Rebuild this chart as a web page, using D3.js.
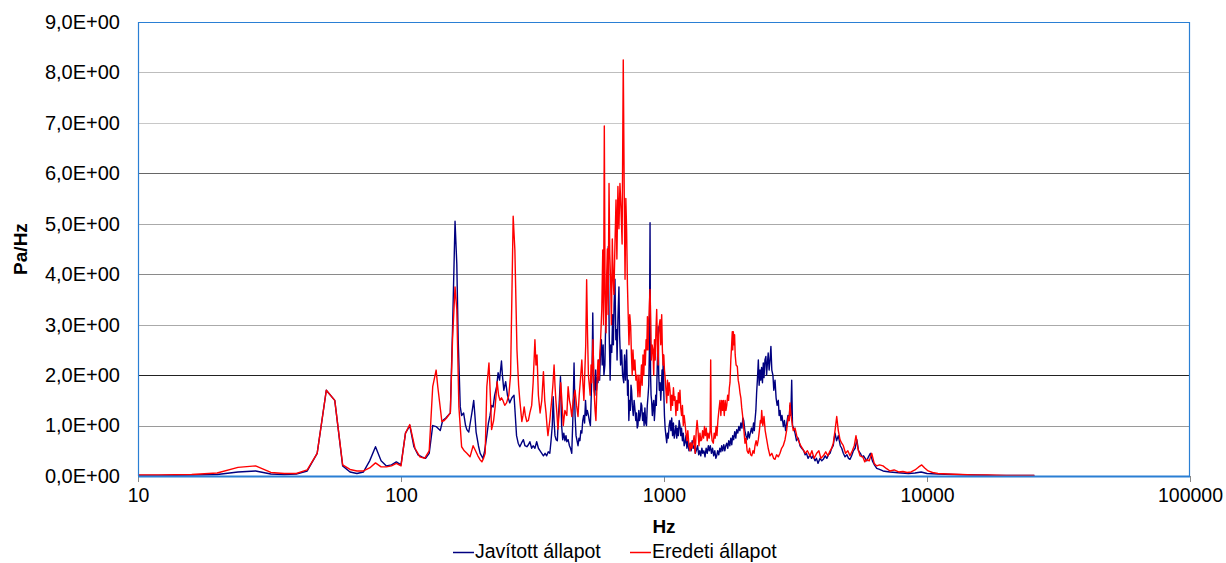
<!DOCTYPE html>
<html><head><meta charset="utf-8">
<script src="https://cdn.jsdelivr.net/npm/d3@7"></script>
<style>
body{margin:0;background:#fff;}
svg{display:block;font-family:"Liberation Sans",Arial,sans-serif;}
</style></head><body>
<svg id="chart" width="1226" height="563"></svg>
<script>
const xTicks = [10, 100, 1000, 10000, 100000];
const yTicks = [0, 1, 2, 3, 4, 5, 6, 7, 8, 9];
const seriesNames = ["Javított állapot", "Eredeti állapot"];
const xTitle = "Hz";
const yTitle = "Pa/Hz";

// [frequency Hz, Pa/Hz]
const javitott = [[10,0.01],[12,0.01],[16,0.02],[20,0.03],[24,0.08],[28,0.1],[32,0.04],[36,0.03],[40,0.04],[44,0.1],[48,0.45],[52,1.7],[56,1.5],[60,0.2],[64,0.08],[68,0.05],[72,0.08],[76,0.3],[80,0.58],[84,0.3],[88,0.2],[92,0.22],[96,0.28],[100,0.22],[104,0.85],[108,1.0],[112,0.58],[116,0.42],[120,0.38],[124,0.35],[128,0.45],[132,1.0],[136,0.98],[141,0.9],[144,1.1],[148,1.15],[151,1.2],[154,1.25],[157,2.9],[160.5,5.05],[163,4.2],[165,2.7],[168,1.37],[170,1.2],[173,1.25],[176,1.0],[178,0.92],[181,0.87],[184,1.1],[186,1.25],[189,1.5],[191,1.2],[193,0.87],[197,0.6],[200,0.45],[205,0.35],[208,0.5],[212,0.8],[215,1.05],[218,1.2],[221,1.4],[224,1.37],[227,1.6],[231,1.77],[234,2.05],[237,1.9],[241,2.28],[243,2.0],[246,1.7],[250,1.87],[254,1.6],[259,1.45],[264,1.55],[269,1.6],[272,1.2],[275,0.8],[279,0.65],[283,0.58],[287,0.65],[292,0.72],[296,0.6],[301,0.58],[305,0.62],[309,0.68],[314,0.55],[318,0.6],[323,0.55],[328,0.68],[333,0.55],[338,0.5],[343,0.45],[348,0.4],[353,0.45],[358,0.4],[363,0.48],[368,0.45],[372,0.7],[376,1.0],[379,1.57],[382,1.1],[385,0.8],[389,0.72],[393,0.7],[397,1.2],[400,1.5],[404,1.97],[408,1.0],[412,0.72],[416,0.85],[420,0.7],[424,0.8],[427,0.68],[432,0.72],[437,0.6],[441,0.55],[446,0.45],[450,1.1],[455,2.24],[459,1.2],[463,0.8],[467,0.7],[471,0.6],[475,0.75],[479,0.7],[483,0.9],[487,0.85],[491,1.1],[495,1.2],[499,1.05],[503,1.5],[507,1.2],[511,1.3],[516,1.2],[520,1.1],[525,1.0],[529,1.6],[533,2.2],[536,3.23],[540,2.0],[543,1.7],[546,1.6],[550,2.1],[554,1.7],[558,1.95],[561,1.85],[565,2.3],[569,1.9],[574,2.5],[578,2.7],[582,2.2],[587,2.6],[591,2.0],[596,2.2],[600,3.0],[604,3.4],[609,3.9],[614,4.55],[619,2.8],[624,1.9],[628,2.6],[633,2.45],[638,3.2],[642,2.6],[646,3.4],[651,3.9],[656,2.7],[660,2.9],[663,2.3],[668,3.1],[674,3.75],[678,2.8],[684,2.2],[690,2.5],[696,2.0],[703,1.85],[708,2.4],[714,1.9],[721,2.5],[727,1.6],[731,1.9],[735,1.1],[740,1.5],[745,1.3],[749,1.8],[753,1.7],[758,1.4],[764,1.2],[770,1.5],[776,1.3],[781,1.1],[786,1.25],[791,0.95],[796,1.0],[802,1.3],[807,1.1],[813,1.2],[818,1.45],[823,1.4],[829,1.1],[835,1.25],[840,1.0],[846,1.35],[852,1.05],[858,1.0],[864,1.4],[870,1.6],[875,1.8],[880,2.5],[885,5.02],[889,2.0],[893,1.6],[897,1.5],[903,1.2],[908,1.4],[914,1.5],[919,1.1],[924,1.3],[930,1.6],[935,1.4],[940,1.9],[945,2.4],[950,2.96],[955,2.0],[960,1.7],[966,1.85],[972,1.5],[978,1.8],[983,2.1],[988,1.7],[994,2.4],[999,1.6],[1004,1.2],[1010,0.95],[1017,0.8],[1024,0.66],[1031,0.85],[1038,0.75],[1046,1.0],[1054,1.1],[1062,0.9],[1070,1.15],[1078,0.8],[1086,1.05],[1094,0.75],[1101,0.85],[1110,1.0],[1118,0.75],[1126,0.95],[1134,0.8],[1142,1.1],[1150,1.0],[1158,0.8],[1166,0.95],[1175,0.7],[1184,0.85],[1193,0.6],[1202,0.66],[1212,0.8],[1222,0.55],[1232,0.7],[1244,0.5],[1256,0.65],[1268,0.5],[1280,0.7],[1292,0.55],[1304,0.6],[1316,0.45],[1329,0.52],[1342,0.6],[1355,0.42],[1368,0.5],[1380,0.4],[1393,0.55],[1405,0.45],[1418,0.5],[1432,0.38],[1446,0.55],[1460,0.45],[1474,0.6],[1487,0.5],[1500,0.6],[1515,0.45],[1530,0.55],[1545,0.4],[1560,0.5],[1575,0.35],[1586,0.4],[1600,0.5],[1615,0.42],[1630,0.55],[1645,0.48],[1657,0.6],[1672,0.5],[1688,0.62],[1703,0.5],[1718,0.6],[1732,0.65],[1748,0.55],[1763,0.7],[1780,0.6],[1795,0.75],[1810,0.62],[1825,0.8],[1840,0.72],[1858,0.88],[1875,0.75],[1890,0.92],[1908,0.85],[1925,0.98],[1943,0.9],[1960,1.05],[1978,0.95],[1995,1.15],[2010,1.1],[2030,0.9],[2050,0.8],[2070,0.72],[2090,0.88],[2110,0.75],[2129,0.85],[2150,0.95],[2170,0.85],[2190,1.05],[2205,0.9],[2218,1.1],[2235,1.3],[2250,1.65],[2265,1.9],[2284,2.3],[2300,1.8],[2318,2.1],[2333,1.9],[2350,2.15],[2368,1.85],[2385,2.24],[2400,1.95],[2420,2.3],[2440,2.37],[2455,2.0],[2470,2.2],[2490,2.44],[2510,2.1],[2530,2.3],[2550,2.57],[2570,2.1],[2595,2.0],[2615,1.7],[2643,1.9],[2668,1.55],[2693,1.4],[2720,1.5],[2740,1.2],[2761,1.3],[2785,1.1],[2810,1.2],[2843,0.98],[2870,1.1],[2900,0.9],[2930,1.05],[2960,1.2],[2990,1.1],[3014,1.4],[3035,1.2],[3059,1.9],[3080,1.0],[3110,0.95],[3150,0.85],[3190,0.7],[3240,0.75],[3290,0.6],[3340,0.55],[3400,0.5],[3440,0.42],[3480,0.45],[3530,0.35],[3590,0.42],[3640,0.35],[3690,0.4],[3750,0.3],[3800,0.35],[3850,0.25],[3920,0.35],[3980,0.3],[4034,0.33],[4100,0.4],[4160,0.35],[4220,0.42],[4279,0.45],[4340,0.55],[4400,0.6],[4470,0.85],[4530,0.7],[4600,0.8],[4680,0.6],[4740,0.55],[4806,0.45],[4880,0.38],[4960,0.42],[5030,0.35],[5095,0.33],[5170,0.4],[5250,0.5],[5330,0.55],[5410,0.72],[5490,0.5],[5580,0.45],[5660,0.38],[5740,0.4],[5820,0.35],[5900,0.3],[5990,0.38],[6090,0.45],[6200,0.3],[6310,0.22],[6440,0.15],[6600,0.13],[6804,0.1],[7000,0.09],[7233,0.08],[7600,0.07],[8000,0.06],[8500,0.05],[9000,0.06],[9500,0.08],[10000,0.05],[11000,0.04],[12500,0.03],[15000,0.02],[18000,0.01],[21000,0.01],[25600,0.01]];

const eredeti = [[10,0.02],[12,0.02],[16,0.03],[20,0.06],[24,0.17],[28,0.2],[32,0.07],[36,0.05],[40,0.05],[44,0.12],[48,0.45],[52,1.7],[56,1.5],[60,0.22],[64,0.13],[68,0.1],[72,0.1],[76,0.16],[80,0.26],[84,0.18],[88,0.18],[92,0.2],[96,0.25],[100,0.2],[104,0.85],[108,1.02],[113,0.55],[118,0.38],[123,0.35],[128,0.5],[132,1.77],[136,2.1],[138,1.77],[143,1.08],[146,1.1],[149,1.15],[154,1.25],[157,2.7],[160.5,3.75],[163,3.3],[166,1.37],[170,0.58],[174,0.5],[178,0.45],[183,0.38],[188,0.6],[192,0.5],[196,0.4],[200,0.32],[203,0.28],[206,0.35],[209,0.45],[212,1.77],[216,2.24],[219,1.5],[221,0.92],[225,1.1],[228,1.37],[232,1.87],[235,1.6],[238,1.5],[241,1.55],[244,1.5],[248,1.4],[252,1.45],[257,1.6],[261,2.0],[264,3.56],[267,5.15],[271,4.48],[276,2.5],[280,1.8],[283,1.5],[288,1.08],[291,1.2],[294,1.37],[297,1.2],[301,1.08],[305,1.1],[309,1.25],[314,1.4],[318,1.85],[323,2.7],[326,2.2],[329,2.4],[333,1.6],[338,1.25],[343,1.5],[348,2.07],[352,1.5],[356,1.25],[359,1.0],[362,0.8],[368,1.1],[374,1.5],[378,1.8],[382,2.2],[385,1.8],[388,1.5],[392,1.2],[395,0.93],[400,1.3],[405,1.85],[410,1.4],[414,1.0],[420,1.3],[427,1.2],[432,1.77],[437,1.5],[441,1.4],[446,1.18],[452,1.5],[459,1.7],[465,1.4],[471,1.18],[476,1.6],[481,1.9],[487,2.3],[492,1.8],[496,1.5],[501,2.2],[504,2.6],[508,3.89],[512,2.8],[516,2.0],[519,1.85],[524,1.6],[528,2.2],[531,1.85],[534,2.3],[537,2.7],[542,1.7],[547,1.3],[551,1.1],[556,1.8],[561,2.3],[566,1.9],[570,2.4],[574,2.7],[580,3.3],[585,4.48],[589,3.0],[593,6.94],[597,3.6],[602,2.84],[605,3.9],[609,4.5],[613,3.2],[618,5.8],[622,4.4],[627,3.83],[631,3.0],[636,4.7],[641,3.9],[645,3.6],[651,4.6],[657,5.47],[662,4.3],[668,5.74],[674,4.9],[680,5.8],[686,5.34],[693,4.6],[700,8.25],[706,5.6],[711,3.9],[716,5.5],[721,4.85],[726,3.8],[730,3.3],[736,2.6],[741,3.2],[747,2.96],[752,2.4],[757,2.0],[762,2.5],[768,2.1],[775,2.3],[782,1.9],[789,2.0],[796,1.57],[803,2.0],[810,1.57],[816,1.9],[821,2.2],[826,1.8],[832,2.4],[838,2.0],[843,2.5],[849,2.2],[855,2.7],[860,2.5],[865,3.16],[870,2.5],[875,3.0],[880,3.4],[885,3.7],[890,3.1],[895,2.3],[901,2.6],[908,2.5],[914,2.0],[920,2.7],[926,2.3],[932,2.9],[938,3.3],[944,2.6],[950,2.2],[955,2.8],[960,3.0],[966,3.1],[972,2.6],[980,3.2],[986,2.5],[992,2.2],[998,2.4],[1004,2.1],[1010,1.95],[1017,1.7],[1024,1.45],[1031,1.9],[1038,1.6],[1046,1.85],[1054,1.7],[1062,1.3],[1070,1.6],[1078,1.4],[1086,1.75],[1094,1.5],[1101,1.57],[1110,1.2],[1118,1.5],[1126,1.3],[1134,1.65],[1142,1.45],[1150,1.7],[1158,1.35],[1166,1.2],[1175,1.4],[1184,1.0],[1193,1.2],[1202,1.05],[1212,0.85],[1222,0.7],[1232,0.9],[1244,0.6],[1256,0.5],[1266,0.66],[1278,0.55],[1290,0.66],[1302,0.8],[1314,0.45],[1326,0.9],[1336,1.1],[1347,0.9],[1358,0.6],[1370,0.85],[1380,0.7],[1391,0.72],[1402,0.9],[1414,0.75],[1425,0.98],[1436,0.8],[1448,0.95],[1460,0.7],[1470,0.85],[1485,0.75],[1497,0.9],[1505,2.3],[1512,0.9],[1524,0.7],[1540,0.65],[1552,0.85],[1565,0.75],[1578,0.98],[1590,0.8],[1603,1.1],[1617,1.3],[1633,1.5],[1645,1.2],[1658,1.5],[1670,1.3],[1681,1.5],[1695,1.2],[1708,1.5],[1720,1.3],[1732,1.4],[1746,1.6],[1760,1.5],[1772,1.75],[1782,1.85],[1795,2.3],[1808,2.6],[1818,2.86],[1825,2.5],[1835,2.86],[1845,2.6],[1855,2.8],[1865,2.4],[1880,2.2],[1900,2.17],[1915,1.9],[1930,1.8],[1945,1.65],[1960,1.55],[1975,1.35],[1992,1.18],[2010,0.95],[2032,0.65],[2050,0.75],[2070,0.5],[2092,0.45],[2115,0.55],[2135,0.42],[2156,0.4],[2180,0.5],[2200,0.45],[2218,0.6],[2240,0.7],[2262,0.6],[2284,0.72],[2305,0.9],[2325,1.1],[2340,1.05],[2352,1.3],[2375,1.0],[2400,1.18],[2425,0.9],[2458,0.72],[2490,0.55],[2529,0.4],[2570,0.45],[2610,0.35],[2643,0.33],[2680,0.42],[2720,0.38],[2761,0.45],[2800,0.55],[2840,0.6],[2885,0.72],[2925,0.9],[2969,1.18],[2990,1.1],[3014,1.45],[3040,1.2],[3070,1.05],[3101,0.9],[3150,0.95],[3196,0.8],[3250,0.7],[3310,0.6],[3386,0.52],[3440,0.45],[3510,0.5],[3591,0.4],[3650,0.5],[3720,0.35],[3807,0.45],[3880,0.5],[3950,0.35],[4034,0.4],[4120,0.48],[4200,0.4],[4279,0.5],[4340,0.55],[4403,0.65],[4470,0.9],[4537,1.18],[4600,0.9],[4669,0.72],[4740,0.65],[4806,0.6],[4900,0.45],[5000,0.5],[5095,0.4],[5200,0.5],[5290,0.6],[5370,0.8],[5460,0.55],[5562,0.4],[5700,0.38],[5800,0.28],[5898,0.33],[6030,0.3],[6164,0.45],[6300,0.25],[6440,0.2],[6600,0.22],[6804,0.2],[7000,0.15],[7233,0.1],[7500,0.12],[7800,0.08],[8100,0.09],[8400,0.07],[8700,0.08],[9000,0.12],[9300,0.18],[9550,0.22],[9800,0.16],[10100,0.1],[10500,0.07],[11000,0.05],[12000,0.04],[13500,0.03],[15000,0.02],[17000,0.02],[20000,0.01],[25600,0.01]];

const seriesColors = ["#000080", "#ff0000"];

const svg = d3.select("#chart");
const L = 138, R = 1190, T = 22, B = 476;
const x = d3.scaleLog().domain([10, 100000]).range([L, R]);
const y = d3.scaleLinear().domain([0, 9]).range([B, T]);

// gridlines
const gridColor = {1:"#9a9a9a",2:"#222",3:"#aaa",4:"#8a8a8a",5:"#aaa",6:"#666",7:"#c8c8c8",8:"#bdbdbd"};
svg.append("g").selectAll("line").data(yTicks.filter(v => v > 0 && v < 9)).join("line")
  .attr("x1", L).attr("x2", R)
  .attr("y1", d => Math.round(y(d)) + 0.5).attr("y2", d => Math.round(y(d)) + 0.5)
  .attr("stroke", d => gridColor[d]).attr("stroke-width", 1);

// y axis labels
const fmt = v => v.toFixed(1).replace(".", ",") + "E+00";
const yAxis = d3.axisLeft(y).tickValues(yTicks).tickFormat(fmt).tickSize(0).tickPadding(18);
const gy = svg.append("g").attr("transform", `translate(${L},0)`).call(yAxis);
gy.select(".domain").remove();
gy.selectAll("text").attr("font-size", 20).attr("fill", "#000")
  .attr("font-family", "'Liberation Sans', Arial, sans-serif");

// x axis
const xAxis = d3.axisBottom(x).tickValues(xTicks).tickFormat(d3.format("d")).tickSize(6).tickPadding(6);
const gx = svg.append("g").attr("transform", `translate(0,${B})`).call(xAxis);
gx.select(".domain").remove();
gx.selectAll("line").attr("stroke", "#888");
gx.selectAll("text").attr("font-size", 19.5).attr("fill", "#000")
  .attr("font-family", "'Liberation Sans', Arial, sans-serif");

// series lines
const line = d3.line().x(d => x(d[0])).y(d => y(d[1]));
[javitott, eredeti].forEach((s, i) => {
  svg.append("path").datum(s).attr("d", line)
    .attr("fill", "none").attr("stroke", seriesColors[i])
    .attr("stroke-width", 1.4).attr("stroke-linejoin", "round");
});

// frame
const frame = "#2a7fd4";
svg.append("path").attr("d", `M${L+0.5},${B} V${T+0.5} H${R-0.5} V${B}`)
  .attr("fill", "none").attr("stroke", frame).attr("stroke-width", 1.2);
svg.append("line").attr("x1", L).attr("x2", R).attr("y1", B + 0.5).attr("y2", B + 0.5)
  .attr("stroke", frame).attr("stroke-width", 2);

// titles
svg.append("text").attr("x", (L + R) / 2).attr("y", 533).attr("text-anchor", "middle")
  .attr("font-size", 19).attr("font-weight", "bold").text(xTitle);
svg.append("text").attr("transform", `translate(27,${(T + B) / 2}) rotate(-90)`)
  .attr("text-anchor", "middle").attr("font-size", 19).attr("font-weight", "bold").text(yTitle);

// legend
const legendItems = [{x: 453}, {x: 630}];
legendItems.forEach((p, i) => {
  svg.append("line").attr("x1", p.x).attr("x2", p.x + 21).attr("y1", 552.5).attr("y2", 552.5)
    .attr("stroke", seriesColors[i]).attr("stroke-width", 1.5);
  svg.append("text").attr("x", p.x + 22).attr("y", 558).attr("font-size", 19.5).text(seriesNames[i]);
});
</script>
</body></html>
